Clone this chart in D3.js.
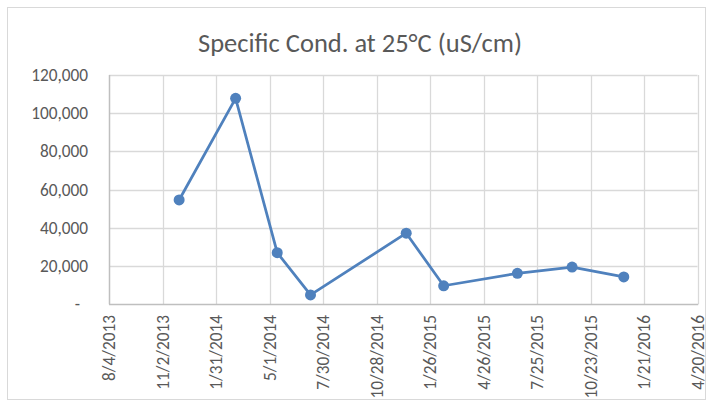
<!DOCTYPE html>
<html>
<head>
<meta charset="utf-8">
<script src="https://cdn.jsdelivr.net/npm/d3@7"></script>
<style>
  body { margin: 0; background: #fff; }
  text { font-family: Carlito, Lato, "Open Sans", sans-serif; fill: #595959; }
</style>
</head>
<body>
<svg id="chart" width="713" height="405"></svg>
<script>
// sample dates and values
var dates = ["11/30/2013", "3/5/2014", "5/14/2014", "7/9/2014", "12/17/2014",
             "2/18/2015", "6/22/2015", "9/22/2015", "12/18/2015"];
var values = [54600, 107800, 27000, 4900, 37200, 9700, 16200, 19500, 14300];
var xTickLabels = ["8/4/2013", "11/2/2013", "1/31/2014", "5/1/2014", "7/30/2014", "10/28/2014",
                   "1/26/2015", "4/26/2015", "7/25/2015", "10/23/2015", "1/21/2016", "4/20/2016"];
var yTicks = [0, 20000, 40000, 60000, 80000, 100000, 120000];

var parse = d3.timeParse("%m/%d/%Y");
var svg = d3.select('#chart');

var margin = {left: 109, right: 15.5, top: 75, bottom: 100.7};
var W = 713, H = 405;

// outer chart border
svg.append('rect')
  .attr('x', 7.5).attr('y', 7.5).attr('width', 698).attr('height', 392)
  .attr('fill', 'none').attr('stroke', '#d9d9d9');

svg.append('text')
  .attr('x', 360).attr('y', 52)
  .attr('text-anchor', 'middle')
  .style('font-size', '26.5px')
  .text('Specific Cond. at 25°C (uS/cm)');

var x = d3.scaleTime()
  .domain([parse(xTickLabels[0]), parse(xTickLabels[xTickLabels.length - 1])])
  .range([margin.left, W - margin.right]);
var y = d3.scaleLinear().domain([0, 120000]).range([H - margin.bottom, margin.top]);

var xTicks = xTickLabels.map(parse);

// gridlines
svg.append('g').selectAll('line')
  .data(yTicks.slice(1))
  .join('line')
  .attr('x1', margin.left).attr('x2', x.range()[1])
  .attr('y1', function(d) { return Math.round(y(d)) + 0.5; })
  .attr('y2', function(d) { return Math.round(y(d)) + 0.5; })
  .attr('stroke', '#d9d9d9').attr('stroke-width', 1.3);

svg.append('g').selectAll('line')
  .data(xTicks.slice(1))
  .join('line')
  .attr('x1', function(d) { return Math.round(x(d)) + 0.5; })
  .attr('x2', function(d) { return Math.round(x(d)) + 0.5; })
  .attr('y1', margin.top).attr('y2', y(0))
  .attr('stroke', '#d9d9d9').attr('stroke-width', 1.3);

// axis lines
svg.append('line')
  .attr('x1', margin.left + 0.5).attr('x2', margin.left + 0.5)
  .attr('y1', margin.top).attr('y2', y(0))
  .attr('stroke', '#bfbfbf').attr('stroke-width', 1.5);
svg.append('line')
  .attr('x1', margin.left).attr('x2', x.range()[1] + 0.7)
  .attr('y1', Math.round(y(0)) + 0.5).attr('y2', Math.round(y(0)) + 0.5)
  .attr('stroke', '#bfbfbf').attr('stroke-width', 1.5);

// y labels
var fmt = d3.format(',');
svg.append('g').selectAll('text')
  .data(yTicks)
  .join('text')
  .attr('x', function(d) { return d === 0 ? 80 : 88; })
  .attr('y', function(d) { return y(d) + 6; })
  .attr('text-anchor', 'end')
  .style('font-size', '17.3px')
  .text(function(d) { return d === 0 ? '-' : fmt(d); });

// x labels, rotated
svg.append('g').selectAll('text')
  .data(xTicks)
  .join('text')
  .attr('transform', function(d) {
    return 'translate(' + (x(d) + 6) + ',' + 315 + ') rotate(-90)';
  })
  .attr('text-anchor', 'end')
  .style('font-size', '17.3px')
  .text(function(d, i) { return xTickLabels[i]; });

// series
var data = dates.map(function(d, i) { return {date: parse(d), value: values[i]}; });
var line = d3.line()
  .x(function(d) { return x(d.date); })
  .y(function(d) { return y(d.value); });

svg.append('path')
  .datum(data)
  .attr('d', line)
  .attr('fill', 'none')
  .attr('stroke', '#4f81bd')
  .attr('stroke-width', 2.75)
  .attr('stroke-linejoin', 'round');

svg.append('g').selectAll('circle')
  .data(data)
  .join('circle')
  .attr('cx', function(d) { return x(d.date); })
  .attr('cy', function(d) { return y(d.value); })
  .attr('r', 5.5)
  .attr('fill', '#4f81bd');
</script>
</body>
</html>
